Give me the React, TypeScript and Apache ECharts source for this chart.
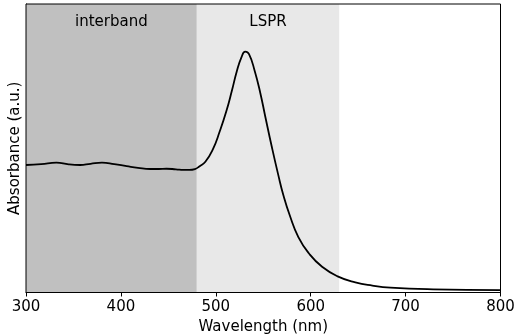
import React, { useEffect, useRef } from "react";
import * as echarts from "echarts";

const wavelengths = [300, 316, 332, 345, 357, 368, 380, 393, 406, 418, 431, 440, 448, 458, 466, 472, 478, 483, 489, 497, 504, 511, 517, 522, 527, 531, 535, 541, 547, 552, 559, 566, 571, 578, 587, 598, 612, 629, 647, 665, 684, 729, 800];
const absorbance = [0.442, 0.445, 0.450, 0.444, 0.442, 0.446, 0.450, 0.445, 0.438, 0.432, 0.428, 0.428, 0.429, 0.427, 0.425, 0.425, 0.428, 0.438, 0.453, 0.497, 0.557, 0.627, 0.700, 0.765, 0.815, 0.835, 0.826, 0.768, 0.690, 0.612, 0.505, 0.405, 0.340, 0.267, 0.192, 0.136, 0.089, 0.055, 0.035, 0.024, 0.017, 0.011, 0.008];
const regions = [
  { name: "interband", from: 300, to: 480, color: "#c0c0c0" },
  { name: "LSPR", from: 480, to: 630, color: "#e8e8e8" },
];
const xTicks = [300, 400, 500, 600, 700, 800];

export default function App() {
  const ref = useRef<HTMLDivElement>(null);
  useEffect(() => {
    if (!ref.current) return;
    const chart = echarts.init(ref.current, undefined, { renderer: "svg" });
    const font = "DejaVu Sans";
    chart.setOption({
      animation: false,
      grid: {
        left: 26,
        right: 13.5,
        top: 4,
        bottom: 42.5,
        containLabel: false,
        outerBoundsMode: "none",
        show: true,
        borderColor: "#000",
        borderWidth: 1,
        backgroundColor: "transparent",
        z: 10,
      },
      xAxis: {
        type: "value",
        min: xTicks[0],
        max: xTicks[xTicks.length - 1],
        interval: 100,
        name: "Wavelength (nm)",
        nameLocation: "middle",
        nameGap: 22,
        nameTextStyle: { fontFamily: font, fontSize: 15, color: "#000" },
        axisLine: { show: true, lineStyle: { color: "#000", width: 1 } },
        axisTick: { show: true, length: 4, lineStyle: { color: "#000" } },
        axisLabel: { fontFamily: font, fontSize: 15, color: "#000", margin: 6 },
        splitLine: { show: false },
      },
      yAxis: {
        type: "value",
        min: 0,
        max: 1,
        name: "Absorbance (a.u.)",
        nameLocation: "middle",
        nameGap: 5,
        nameTextStyle: { fontFamily: font, fontSize: 15, color: "#000" },
        axisLine: { show: true, lineStyle: { color: "#000", width: 1 } },
        axisTick: { show: false },
        axisLabel: { show: false },
        splitLine: { show: false },
      },
      series: [
        {
          type: "line",
          data: wavelengths.map((w, i) => [w, absorbance[i]]),
          smooth: 0.5,
          showSymbol: false,
          lineStyle: { color: "#000", width: 1.8 },
          z: 5,
          markArea: {
            silent: true,
            data: regions.map((r) => [
              {
                name: r.name,
                xAxis: r.from,
                itemStyle: { color: r.color },
                label: {
                  show: true,
                  position: "insideTop",
                  distance: 9,
                  fontFamily: font,
                  fontSize: 15,
                  color: "#000",
                },
              },
              { xAxis: r.to },
            ]),
          },
        },
      ],
    });
    return () => chart.dispose();
  }, []);
  return (
    <div
      ref={ref}
      style={{ position: "fixed", left: 0, top: 0, width: 514, height: 335 }}
    />
  );
}
